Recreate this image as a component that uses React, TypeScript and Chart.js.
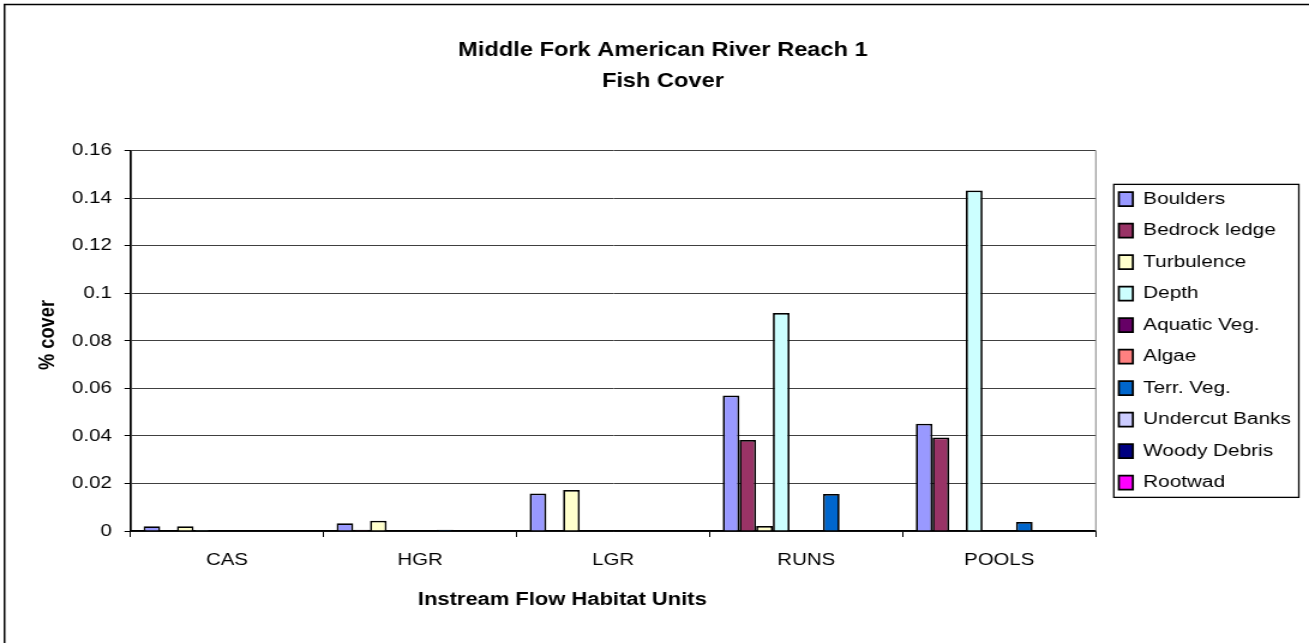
import React, { useEffect, useRef } from 'react';
import { Chart, registerables } from 'chart.js';

Chart.register(...registerables);

const CATEGORIES = ['CAS', 'HGR', 'LGR', 'RUNS', 'POOLS'];
const SERIES_NAMES = [
  'Boulders',
  'Bedrock ledge',
  'Turbulence',
  'Depth',
  'Aquatic Veg.',
  'Algae',
  'Terr. Veg.',
  'Undercut Banks',
  'Woody Debris',
  'Rootwad',
];
const SERIES_COLORS = [
  '#9999FF',
  '#993366',
  '#FFFFCC',
  '#CCFFFF',
  '#660066',
  '#FF8080',
  '#0066CC',
  '#CCCCFF',
  '#000080',
  '#FF00FF',
];
const BOULDERS = [0.002, 0.0033, 0.0158, 0.057, 0.0451];
const BEDROCK_LEDGE = [0, 0.0005, 0, 0.0383, 0.0393];
const TURBULENCE = [0.002, 0.0043, 0.0173, 0.0021, 0];
const DEPTH = [0.0004, 0, 0, 0.0917, 0.1433];
const AQUATIC_VEG = [0, 0, 0, 0, 0];
const ALGAE = [0, 0, 0, 0, 0];
const TERR_VEG = [0, 0.0005, 0, 0.0156, 0.0038];
const UNDERCUT_BANKS = [0, 0, 0, 0, 0];
const WOODY_DEBRIS = [0, 0, 0, 0, 0];
const ROOTWAD = [0, 0, 0, 0, 0];
const Y_TICKS = ['0', '0.02', '0.04', '0.06', '0.08', '0.1', '0.12', '0.14', '0.16'];
const TITLE_LINES = ['Middle Fork American River Reach 1', 'Fish Cover'];
const X_TITLE = 'Instream Flow Habitat Units';
const Y_TITLE = '% cover';

const PAGE_W = 1309;
const PAGE_H = 643;
const CANVAS_W = 1091;
const STRETCH = PAGE_W / CANVAS_W;
const FONT = "Arial, 'Liberation Sans', Helvetica, sans-serif";
const LEGEND_W = 177.7;

const framePlugin = {
  id: 'framePlugin',
  beforeLayout(chart: any) {
    const lg = chart.legend;
    if (lg && !lg.__fixedWidth) {
      const orig = lg.fit.bind(lg);
      lg.fit = function () {
        orig();
        lg.width = LEGEND_W;
      };
      lg.__fixedWidth = true;
    }
  },
  afterLayout(chart: any) {
    const lg = chart.legend;
    if (lg) {
      lg.left += 5;
      lg.right += 5;
    }
  },
  afterDraw(chart: any) {
    const { ctx, chartArea: ca } = chart;
    ctx.save();
    // outer frame
    ctx.strokeStyle = '#000';
    ctx.lineWidth = 1.5;
    ctx.strokeRect(3.75, 4.5, chart.width + 40, chart.height + 40);
    // plot area right border
    ctx.strokeStyle = '#808080';
    ctx.lineWidth = 1;
    ctx.beginPath();
    ctx.moveTo(ca.right, ca.top);
    ctx.lineTo(ca.right, ca.bottom);
    ctx.stroke();
    // legend border
    const cy = (ca.top + ca.bottom) / 2;
    ctx.strokeStyle = '#000';
    ctx.lineWidth = 1.3;
    ctx.strokeRect(ca.right + 15, cy - 156.5, 154.2, 313);
    // axis titles
    ctx.fillStyle = '#000';
    ctx.font = `bold 18.3px ${FONT}`;
    ctx.textAlign = 'center';
    ctx.textBaseline = 'middle';
    ctx.fillText(X_TITLE, ca.left + 0.4474 * (ca.right - ca.left), 600);
    ctx.translate(40.4, 335);
    ctx.rotate(-Math.PI / 2);
    ctx.fillText(Y_TITLE, 0, 0);
    ctx.restore();
  },
};

export default function App() {
  const ref = useRef<HTMLCanvasElement>(null);
  useEffect(() => {
    document.body.style.margin = '0';
    const canvas = ref.current!;
    const seriesData = [
      BOULDERS,
      BEDROCK_LEDGE,
      TURBULENCE,
      DEPTH,
      AQUATIC_VEG,
      ALGAE,
      TERR_VEG,
      UNDERCUT_BANKS,
      WOODY_DEBRIS,
      ROOTWAD,
    ];
    const chart = new Chart(canvas, {
      type: 'bar',
      data: {
        labels: CATEGORIES,
        datasets: SERIES_NAMES.map((name, i) => ({
          label: name,
          data: seriesData[i],
          backgroundColor: SERIES_COLORS[i],
          borderColor: '#000',
          borderWidth: 1.75,
          borderSkipped: 'start',
          inflateAmount: 0,
          categoryPercentage: 0.865,
          barPercentage: 1,
        })),
      },
      options: {
        responsive: false,
        animation: false,
        devicePixelRatio: 1,
        layout: { padding: { left: 14, right: 0, top: 0, bottom: 0 } },
        plugins: {
          title: {
            display: true,
            text: TITLE_LINES,
            color: '#000',
            font: { family: FONT, size: 19.7, weight: 'bold', lineHeight: 1.6 },
            padding: { top: 34.75, bottom: 52.95 },
          },
          legend: {
            position: 'right',
            align: 'center',
            fullSize: false,
            labels: {
              color: '#000',
              font: { family: FONT, size: 17.3 },
              boxWidth: 11.7,
              boxHeight: 14,
              padding: 14.2,
            },
          },
          tooltip: { enabled: false },
        },
        scales: {
          x: {
            grid: {
              offset: true,
              drawOnChartArea: false,
              drawTicks: true,
              tickLength: 6,
              color: '#000',
              lineWidth: 1,
            },
            border: { display: true, color: '#000', width: 1.75 },
            ticks: {
              color: '#000',
              font: { family: FONT, size: 17 },
              padding: 13.3,
              maxRotation: 0,
              autoSkip: false,
            },
            afterFit: (s: any) => {
              s.height = 112;
            },
          },
          y: {
            min: 0,
            max: 0.16,
            ticks: {
              stepSize: 0.02,
              color: '#000',
              font: { family: FONT, size: 17 },
              padding: 10.6,
              callback: (v: any) => Y_TICKS[Math.round(Number(v) / 0.02)],
            },
            grid: { color: '#404040', tickColor: '#000', tickLength: 5, lineWidth: 1 },
            border: { display: true, color: '#000', width: 1.75 },
            afterFit: (s: any) => {
              s.width = 94.75;
            },
          },
        },
      } as any,
      plugins: [framePlugin as any],
    });
    return () => chart.destroy();
  }, []);
  return (
    <div style={{ width: PAGE_W, height: PAGE_H, overflow: 'hidden', position: 'relative', background: '#fff' }}>
      <canvas
        ref={ref}
        width={CANVAS_W}
        height={PAGE_H}
        style={{
          display: 'block',
          width: `${CANVAS_W}px`,
          height: `${PAGE_H}px`,
          transform: `scaleX(${STRETCH})`,
          transformOrigin: '0 0',
        }}
      />
    </div>
  );
}
